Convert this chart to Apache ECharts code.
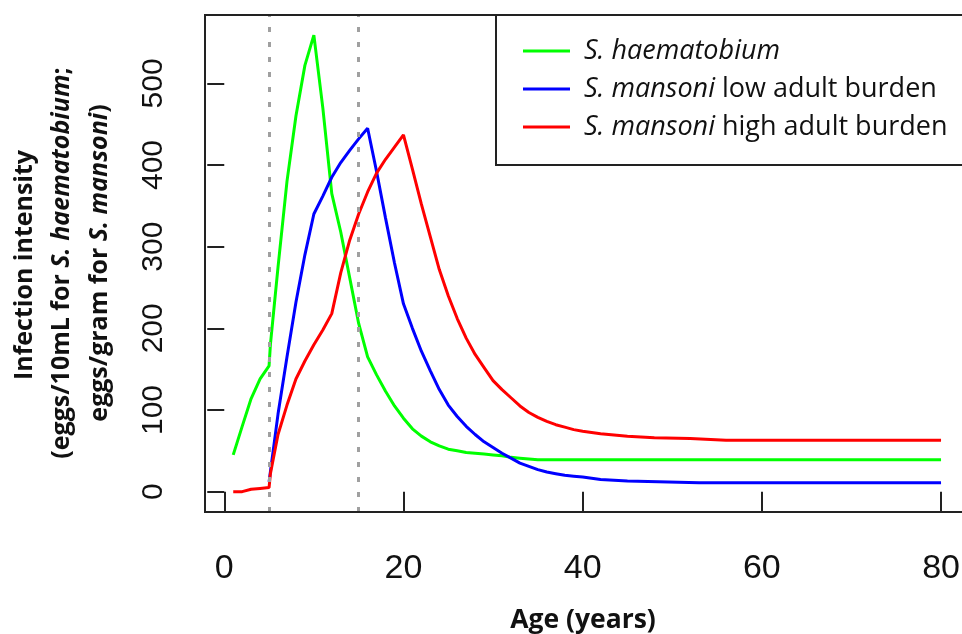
<!DOCTYPE html>
<html><head><meta charset="utf-8">
<script src="https://cdn.jsdelivr.net/npm/echarts@6/dist/echarts.min.js"></script>
<style>html,body{margin:0;padding:0;background:#fff;overflow:hidden}#c{width:962px;height:634px}</style>
</head><body><div id="c"></div>
<script>
// ---- data ----
const seriesNames = ['S. haematobium', 'S. mansoni low adult burden', 'S. mansoni high adult burden'];
const haemAges   = [1, 2, 3, 4, 5, 5.15, 6, 7, 8, 9, 10, 11, 12, 13, 14, 15, 16, 17, 18, 19, 20, 21, 22, 23, 24, 25, 26, 27, 28, 29, 30, 31, 32, 33, 34, 35, 36, 80];
const haemValues = [45, 80, 114, 138, 154, 180, 275, 380, 460, 522, 559, 470, 365, 318, 262, 206, 165, 143, 123, 105, 90, 77, 68, 61, 56, 52, 50, 48, 47, 46, 45, 44, 42, 41, 40, 39, 39, 39];
const lowAges    = [5, 6, 7, 8, 9, 10, 11, 12, 13, 14, 15, 16, 17, 18, 19, 20, 21, 22, 23, 24, 25, 26, 27, 28, 29, 30, 31, 32, 33, 34, 35, 36, 37, 38, 39, 40, 42, 45, 53, 80];
const lowValues  = [12, 95, 165, 232, 290, 340, 362, 385, 403, 418, 432, 445, 392, 335, 280, 230, 200, 172, 148, 125, 106, 92, 80, 70, 61, 54, 47, 41, 35, 31, 27, 24, 22, 20, 19, 18, 15, 13, 11, 11];
const highAges   = [1, 2, 3, 4, 5, 5.15, 6, 7, 8, 9, 10, 11, 12, 13, 14, 15, 16, 17, 18, 19, 20, 21, 22, 23, 24, 25, 26, 27, 28, 29, 30, 31, 32, 33, 34, 35, 36, 37, 38, 39, 40, 42, 45, 48, 52, 56, 80];
const highValues = [0, 0, 3, 4, 5, 22, 70, 106, 138, 160, 180, 198, 218, 268, 308, 340, 367, 390, 407, 422, 437, 395, 352, 312, 272, 240, 212, 188, 168, 152, 136, 125, 115, 105, 97, 91, 86, 82, 79, 76, 74, 71, 68, 66, 65, 63, 63];
const refAges = [5, 15];
const xTicks = [0, 20, 40, 60, 80];
const yTicks = [0, 100, 200, 300, 400, 500];
const seriesColors = ['#00ff00', '#0000ff', '#ff0000'];

function pairs(a, v) { return a.map((x, i) => [x, v[i]]); }

const chart = echarts.init(document.getElementById('c'), null, {renderer: 'canvas'});
const textFont = '"Open Sans", "Noto Sans", sans-serif';
const boldRich = {
  b: {fontSize: 25, fontWeight: 'bold', fontFamily: textFont, fill: '#111'},
  bi: {fontSize: 25, fontWeight: 'bold', fontStyle: 'italic', fontFamily: textFont, fill: '#111'}
};
const option = {
  animation: false,
  backgroundColor: '#ffffff',
  grid: {left: 205, top: 15, width: 820, height: 497, show: false, outerBoundsMode: 'none', containLabel: false},
  xAxis: {
    type: 'value', min: -2.15, max: 89.37,
    splitLine: {show: false},
    axisLine: {show: false},
    axisTick: {show: true, customValues: xTicks, length: 20, lineStyle: {color: '#222', width: 2}},
    axisLabel: {customValues: xTicks, margin: 40, color: '#111', fontSize: 34, fontFamily: '"Liberation Sans Narrow", "Liberation Sans", Arial, sans-serif'}
  },
  yAxis: {
    type: 'value', min: -24.9, max: 583.7,
    splitLine: {show: false},
    axisLine: {show: false},
    axisTick: {show: true, customValues: yTicks, length: 17, lineStyle: {color: '#222', width: 2}},
    axisLabel: {customValues: yTicks, rotate: 90, margin: 36, color: '#111', fontSize: 30, fontFamily: '"Liberation Sans", Arial, sans-serif'}
  },
  legend: {
    data: seriesNames.map(n => ({name: n, icon: 'rect'})),
    orient: 'vertical', left: 523, top: 36, padding: 0,
    itemWidth: 47, itemHeight: 3, itemGap: 8,
    formatter: function (name) {
      if (name.indexOf('S. mansoni') === 0) return '{i|S. mansoni}{n|' + name.slice(10) + '}';
      return '{i|' + name + '}';
    },
    textStyle: {
      padding: [0, 0, 0, 9], lineHeight: 30,
      rich: {
        i: {fontStyle: 'italic', fontSize: 27, fontFamily: textFont, color: '#111', lineHeight: 30},
        n: {fontSize: 27, fontFamily: textFont, color: '#111', lineHeight: 30}
      }
    }
  },
  graphic: [
    {type: 'polyline', shape: {points: [[1100, 15], [205, 15], [205, 512], [1100, 512]]}, style: {fill: 'none', stroke: '#222', lineWidth: 2}, z: 10},
    {type: 'polyline', shape: {points: [[1100, 165], [496, 165], [496, 15]]}, style: {fill: 'none', stroke: '#222', lineWidth: 2}, z: 10},
    {type: 'text', x: 583, y: 620, style: {text: 'Age (years)', fontSize: 26.5, fontWeight: 'bold', fontFamily: textFont, fill: '#111', textAlign: 'center', textVerticalAlign: 'middle'}},
    {type: 'text', x: 25, y: 265, rotation: Math.PI / 2, style: {text: 'Infection intensity', fontSize: 25, fontWeight: 'bold', fontFamily: textFont, fill: '#111', textAlign: 'center', textVerticalAlign: 'middle'}},
    {type: 'text', x: 62, y: 263, rotation: Math.PI / 2, style: {
      text: '{b|(eggs/10mL for }{bi|S. haematobium}{b|;}', textAlign: 'center', textVerticalAlign: 'middle', rich: boldRich}},
    {type: 'text', x: 100, y: 263, rotation: Math.PI / 2, style: {
      text: '{b|eggs/gram for }{bi|S. mansoni}{b|)}', textAlign: 'center', textVerticalAlign: 'middle', rich: boldRich}}
  ],
  series: [
    {name: 'refLines', type: 'line', data: [], silent: true,
      markLine: {silent: true, symbol: ['none', 'none'], label: {show: false},
        lineStyle: {color: '#a0a0a0', width: 3, type: [5, 10]},
        data: refAges.map(a => ({xAxis: a}))}},
    {name: seriesNames[0], type: 'line', data: pairs(haemAges, haemValues), showSymbol: false, symbol: 'none', lineStyle: {width: 3, color: seriesColors[0]}, itemStyle: {color: seriesColors[0]}},
    {name: seriesNames[1], type: 'line', data: pairs(lowAges, lowValues), showSymbol: false, symbol: 'none', lineStyle: {width: 3, color: seriesColors[1]}, itemStyle: {color: seriesColors[1]}},
    {name: seriesNames[2], type: 'line', data: pairs(highAges, highValues), showSymbol: false, symbol: 'none', lineStyle: {width: 3, color: seriesColors[2]}, itemStyle: {color: seriesColors[2]}}
  ]
};
chart.setOption(option);
</script>
</body></html>
